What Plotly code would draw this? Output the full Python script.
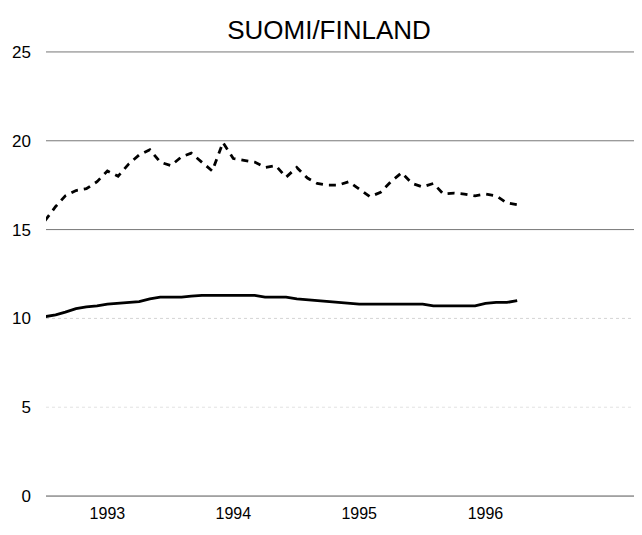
import pandas as pd
import plotly.graph_objects as go

# Monthly observations, Jan 1993 onwards
months = pd.date_range("1993-01-01", periods=46, freq="MS")

finland = [15.5, 16.3, 16.9, 17.2, 17.3, 17.7, 18.3, 18.0, 18.7, 19.2,
           19.5, 18.8, 18.6, 19.1, 19.3, 18.8, 18.3, 19.9, 19.0, 18.9,
           18.8, 18.5, 18.6, 17.95, 18.5, 17.9, 17.6, 17.5, 17.5, 17.7,
           17.3, 16.85, 17.1, 17.7, 18.2, 17.6, 17.4, 17.6, 17.0, 17.05,
           17.0, 16.9, 17.0, 16.9, 16.5, 16.4]

reference = [10.1, 10.2, 10.35, 10.55, 10.65, 10.7, 10.8, 10.85, 10.9, 10.95,
             11.1, 11.2, 11.2, 11.2, 11.25, 11.3, 11.3, 11.3, 11.3, 11.3,
             11.3, 11.2, 11.2, 11.2, 11.1, 11.05, 11.0, 10.95, 10.9, 10.85,
             10.8, 10.8, 10.8, 10.8, 10.8, 10.8, 10.8, 10.7, 10.7, 10.7,
             10.7, 10.7, 10.85, 10.9, 10.9, 11.0]

year_ticks = ["1993-07-01", "1994-07-01", "1995-07-01", "1996-07-01"]
year_labels = ["1993", "1994", "1995", "1996"]
y_ticks = [0, 5, 10, 15, 20, 25]

fig = go.Figure()
fig.add_trace(go.Scatter(x=months, y=finland, mode="lines",
                         line=dict(color="black", width=2.8, dash="7px,6px"),
                         showlegend=False))
fig.add_trace(go.Scatter(x=months, y=reference, mode="lines",
                         line=dict(color="black", width=2.8),
                         showlegend=False))

grid_styles = {25: ("#777", "solid", 1), 20: ("#777", "solid", 1), 15: ("#777", "solid", 1),
               10: ("#d5d5d5", "dot", 1), 5: ("#e2e2e2", "dot", 1), 0: ("#555", "solid", 1)}
for v in y_ticks:
    c, d, w = grid_styles[v]
    fig.add_shape(type="line", xref="paper", yref="y", x0=0, x1=1, y0=v, y1=v,
                  line=dict(color=c, width=w, dash=d), layer="below")

fig.update_layout(
    width=642, height=535,
    margin=dict(l=38, r=0, t=42, b=45),
    paper_bgcolor="white", plot_bgcolor="white",
    font=dict(family="Liberation Sans, Arial, sans-serif", color="black", size=17),
    title=dict(text="SUOMI/FINLAND", x=0.5, xanchor="center", y=1 - 21.5 / 535, yanchor="middle",
               font=dict(size=26, color="black")),
    xaxis=dict(range=["1993-01-04", "1997-10-21"], tickvals=year_ticks, ticktext=year_labels,
               showgrid=False, zeroline=False, showline=False, ticks="",
               tickfont=dict(size=16), ticklabelstandoff=4),
    yaxis=dict(range=[-0.11, 25.11], tickvals=y_ticks, showgrid=False, zeroline=False,
               showline=False, ticks="", tickfont=dict(size=17), ticklabelstandoff=14),
)

fig.write_html("out.html")
